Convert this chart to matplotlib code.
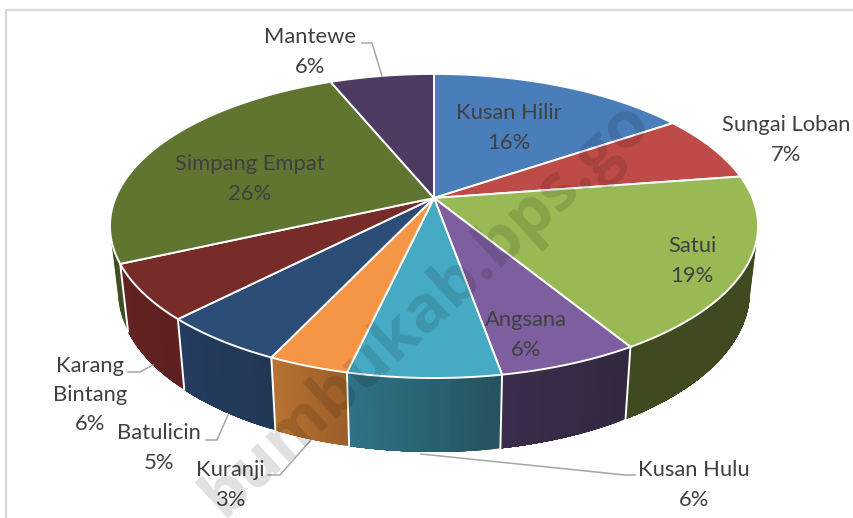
import numpy as np
import matplotlib
matplotlib.use("Agg")
import matplotlib.pyplot as plt

# Slices, clockwise from 12 o'clock
names = ["Kusan Hilir", "Sungai Loban", "Satui", "Angsana", "Kusan Hulu",
         "Kuranji", "Batulicin", "Karang\nBintang", "Simpang Empat", "Mantewe"]
# shares, the labels only show them rounded
values = [15.5, 7.1, 18.7, 5.9, 6.4, 3.4, 5.3, 5.9, 25.6, 6.2]
pct_labels = ["16%", "7%", "19%", "6%", "6%", "3%", "5%", "6%", "26%", "6%"]

top_colors = ["#4A7EBB", "#BE4B48", "#98B954", "#7D5FA0", "#46AAC4",
              "#F59646", "#2C4D75", "#772C2A", "#5F7530", "#4D3B62"]
# wall colours at the clockwise start and end of each slice
side_start = ["#2C4A70", "#7A2E2C", "#3F4A20", "#32283F", "#25535F",
              "#9C5F28", "#213855", "#5E2020", "#3F4D20", "#33273F"]
side_end = ["#2C4A70", "#7A2E2C", "#3F4A20", "#3C2C4C", "#2F7286",
            "#B87232", "#243C5E", "#632222", "#3F4D20", "#33273F"]

# Label centres in pixels
label_x = [509, 786, 692, 526, 694, 230, 159, 90, 250, 310]
label_y = [128, 140, 261, 335, 485, 485, 448, 395, 179, 52]

# Leader lines in pixels
leaders = [
    ([362, 372, 382], [43, 43, 76]),
    ([128, 140, 153], [372, 372, 365]),
    ([206, 217, 228], [440, 440, 415]),
    ([268, 280, 310], [475, 475, 441]),
    ([421, 625, 635], [454, 475, 475]),
]

# Perspective of the pie disc
cx, cy = 434, 198
R, A = 318.5, 146.9
k = 0.184
shrink, depth = 0.975, 64


def top_xy(t):
    w = 1 + k * np.cos(t)
    return cx + R * np.sin(t) / w, cy - A * np.cos(t) / w


def bottom_xy(t):
    w = 1 + k * np.cos(t)
    return (cx + shrink * R * np.sin(t) / w,
            cy - shrink * A * np.cos(t) / w + depth / w)


plt.rcParams["font.family"] = "Lato"
fig = plt.figure(figsize=(8.54, 5.18), dpi=100)
ax = fig.add_axes([0, 0, 1, 1])
ax.set_xlim(0, 854)
ax.set_ylim(518, 0)
ax.axis("off")

# chart border
ax.plot([6, 6, 854], [518, 9.5, 9.5], color="#D9D9D9", lw=1.6, zorder=1)

edges = 2 * np.pi * np.cumsum([0] + values) / sum(values)

# side walls, painted over each other so the gradient has no seams
for i in range(len(values)):
    c0 = np.array(matplotlib.colors.to_rgb(side_start[i]))
    c1 = np.array(matplotlib.colors.to_rgb(side_end[i]))
    ts = np.linspace(edges[i], edges[i + 1], 25)
    for j in range(24):
        tx, ty = top_xy(ts[j:])
        bx, by = bottom_xy(ts[j:])
        col = c0 + (c1 - c0) * j / 23
        ax.fill(np.r_[tx, bx[::-1]], np.r_[ty, by[::-1]], color=col, lw=0, zorder=2)

# white seams on the walls
for t in edges[3:9]:
    tx, ty = top_xy(t)
    bx, by = bottom_xy(t)
    ax.plot([tx, bx], [ty, by], color="white", lw=1.4, zorder=3)

# top face
for i in range(len(values)):
    ts = np.linspace(edges[i], edges[i + 1], 80)
    x, y = top_xy(ts)
    ax.fill(np.r_[cx, x], np.r_[cy, y], facecolor=top_colors[i],
            edgecolor="white", lw=1.4, joinstyle="round", zorder=4)

for lx, ly in leaders:
    ax.plot(lx, ly, color="#A6A6A6", lw=1.1, zorder=5)

for i in range(len(values)):
    ax.text(label_x[i], label_y[i], f"{names[i]}\n{pct_labels[i]}", ha="center",
            va="center", ma="center", fontsize=15.8, color="#404040",
            linespacing=1.58, zorder=6)

# site watermark over everything
ax.text(642, 112, "bumbukab.bps.go", rotation=42.5, rotation_mode="anchor",
        ha="right", va="center", fontsize=47, fontweight="bold", family="Open Sans",
        color="black", alpha=0.12, zorder=7)

fig.savefig("out.png", dpi=100)
